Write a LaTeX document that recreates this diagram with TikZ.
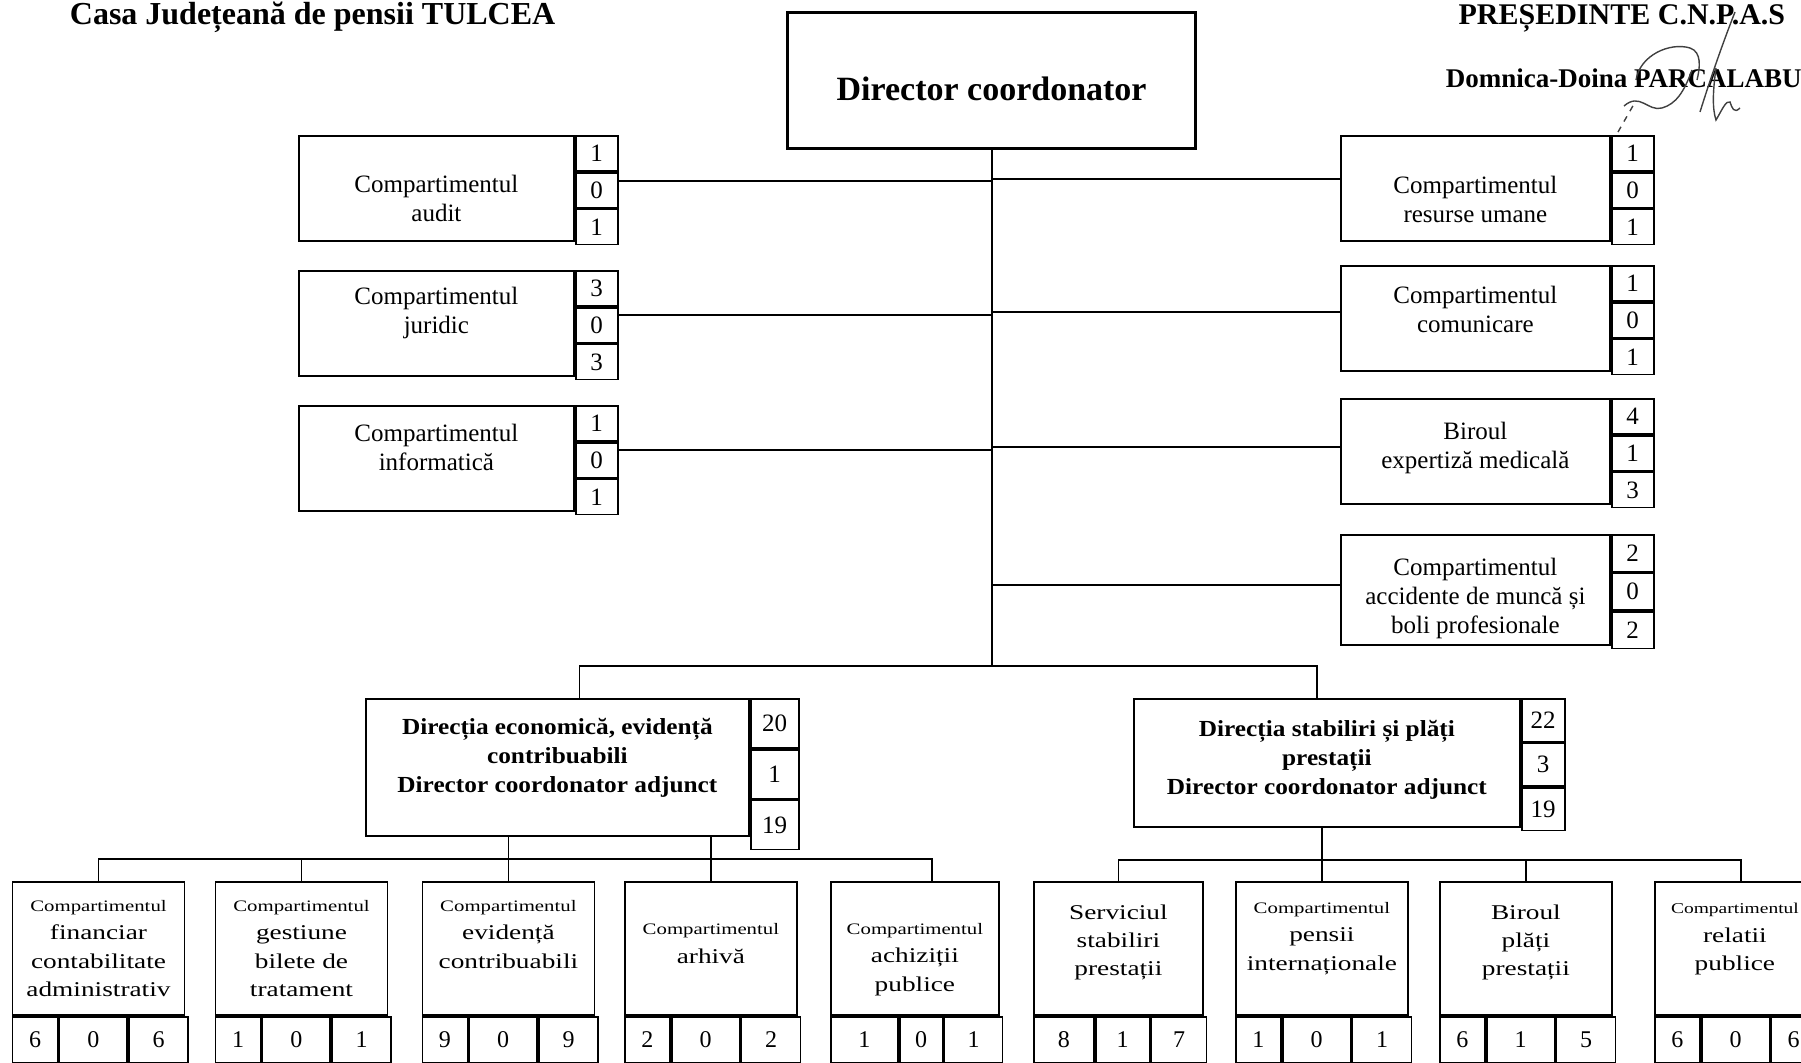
\documentclass[tikz,border=0pt]{standalone}
\usepackage{fontspec}
\setmainfont{Liberation Serif}
\newfontfamily\widerm[FakeStretch=1.3]{Liberation Serif}
\newfontfamily\widerb[FakeStretch=1.1]{Liberation Serif}
\newcommand{\cpt}{{\fontsize{8}{14.2}\selectfont Compartimentul}}
\usetikzlibrary{positioning}

\begin{document}
\begin{tikzpicture}[x=0.5pt, y=-0.5pt, line width=0.9pt,
  box/.style={draw, rectangle, inner sep=0pt, anchor=north west},
  sidebox/.style={box, minimum width=137.5pt, minimum height=52.5pt},
  sidetext/.style={align=center, inner sep=0pt, font=\fontsize{12.5}{14.5}\selectfont},
  numcell/.style={box, minimum width=21pt, minimum height=17.5pt, font=\fontsize{12.5}{13.5}\selectfont},
  dirtext/.style={align=center, inner sep=0pt, font=\widerb\bfseries\fontsize{11.5}{14.5}\selectfont},
  lowbox/.style={box, minimum width=86pt, minimum height=66.5pt},
  lowtext/.style={align=center, inner sep=0pt, font=\widerm\fontsize{10.5}{14.2}\selectfont},
  lownum/.style={box, minimum height=23pt, font=\fontsize{12}{13}\selectfont},
  headtext/.style={inner sep=0pt, font=\bfseries\fontsize{16}{18}\selectfont},
  sig/.style={line width=0.7pt, black!75}]

  \useasboundingbox (0,0) rectangle (1801,1063);
  \clip (0,0) rectangle (1801,1063);

  % header
  \node[headtext, anchor=base west] (casa) at (69,25) {Casa Județeană de pensii TULCEA};
  \node[headtext, anchor=base east, font=\bfseries\fontsize{15}{17}\selectfont] (pres) at (1786,25) {PREȘEDINTE C.N.P.A.S};
  \node[headtext, anchor=base west, font=\bfseries\fontsize{13.5}{15}\selectfont] (semn) at (1445,88) {Domnica-Doina PARCALABU};
  % signature
  \draw[sig] (1735,12) .. controls (1722,45) and (1710,80) .. (1700,112);
  \draw[sig] (1636,80) .. controls (1640,55) and (1670,42) .. (1690,48) .. controls (1702,52) and (1700,68) .. (1697,80);
  \draw[sig] (1624,106) .. controls (1640,92) and (1648,112) .. (1662,108) .. controls (1676,104) and (1684,92) .. (1692,70);
  \draw[sig, dashed] (1618,132) -- (1634,104);
  \draw[sig] (1716,68) .. controls (1713,90) and (1712,108) .. (1716,120) .. controls (1722,110) and (1726,100) .. (1730,102) .. controls (1732,108) and (1734,114) .. (1740,108);

  \node[box, line width=1.6pt, minimum width=204pt, minimum height=68pt] (dir) at (786,11) {};
  \node[inner sep=0pt, yshift=-4pt, font=\bfseries\fontsize{17}{20}\selectfont] (dirtxt) at (dir) {Director coordonator};

  % left side
  \node[sidebox] (audit) at (298,135) {};
  \node[sidetext, yshift=-5pt] (audittxt) at (audit) {Compartimentul\\audit};
  \node[numcell] (audit1) at (audit.north east) {1};
  \node[numcell, below=0pt of audit1] (audit2) {0};
  \node[numcell, below=0pt of audit2] (audit3) {1};

  \node[sidebox] (jur) at (298,270) {};
  \node[sidetext, yshift=5pt] (jurtxt) at (jur) {Compartimentul\\juridic};
  \node[numcell] (jur1) at (jur.north east) {3};
  \node[numcell, below=0pt of jur1] (jur2) {0};
  \node[numcell, below=0pt of jur2] (jur3) {3};

  \node[sidebox] (info) at (298,405) {};
  \node[sidetext, yshift=5.5pt] (infotxt) at (info) {Compartimentul\\informatică};
  \node[numcell] (info1) at (info.north east) {1};
  \node[numcell, below=0pt of info1] (info2) {0};
  \node[numcell, below=0pt of info2] (info3) {1};

  % right side
  \node[sidebox, minimum width=134.5pt] (rum) at (1340,135) {};
  \node[sidetext, yshift=-5.5pt] (rumtxt) at (rum) {Compartimentul\\resurse umane};
  \node[numcell] (rum1) at (rum.north east) {1};
  \node[numcell, below=0pt of rum1] (rum2) {0};
  \node[numcell, below=0pt of rum2] (rum3) {1};

  \node[sidebox, minimum width=134.5pt] (com) at (1340,265) {};
  \node[sidetext, yshift=4.5pt] (comtxt) at (com) {Compartimentul\\comunicare};
  \node[numcell] (com1) at (com.north east) {1};
  \node[numcell, below=0pt of com1] (com2) {0};
  \node[numcell, below=0pt of com2] (com3) {1};

  \node[sidebox, minimum width=134.5pt] (med) at (1340,398) {};
  \node[sidetext, yshift=1.5pt] (medtxt) at (med) {Biroul\\expertiză medicală};
  \node[numcell] (med1) at (med.north east) {4};
  \node[numcell, below=0pt of med1] (med2) {1};
  \node[numcell, below=0pt of med2] (med3) {3};

  \node[sidebox, minimum width=134.5pt, minimum height=55pt] (acc) at (1340,534) {};
  \node[sidetext, yshift=-4.5pt] (acctxt) at (acc) {Compartimentul\\accidente de muncă și\\boli profesionale};
  \node[numcell, minimum height=18.33pt] (acc1) at (acc.north east) {2};
  \node[numcell, minimum height=18.33pt, below=0pt of acc1] (acc2) {0};
  \node[numcell, minimum height=18.33pt, below=0pt of acc2] (acc3) {2};

  \coordinate (lvl) at (0,666);
  \draw (dir.south) -- (dir.south |- lvl);
  \draw ([yshift=4.5pt]audit2.east) -- ([yshift=4.5pt]audit2.east -| dir.south);
  \draw ([yshift=5pt]jur2.east) -- ([yshift=5pt]jur2.east -| dir.south);
  \draw ([yshift=5pt]info2.east) -- ([yshift=5pt]info2.east -| dir.south);
  \draw ([yshift=4.5pt]rum.west -| dir.south) -- ([yshift=4.5pt]rum.west);
  \draw ([yshift=3pt]com.west -| dir.south) -- ([yshift=3pt]com.west);
  \draw ([yshift=2pt]med.west -| dir.south) -- ([yshift=2pt]med.west);
  \draw ([yshift=2.5pt]acc.west -| dir.south) -- ([yshift=2.5pt]acc.west);

  % directions
  \node[box, minimum width=191.5pt, minimum height=68.5pt] (eco) at (365,698) {};
  \node[dirtext, yshift=5pt] (ecotxt) at (eco) {Direcția economică, evidență\\contribuabili\\Director coordonator adjunct};
  \node[numcell, minimum width=24pt, minimum height=24.5pt] (eco1) at (eco.north east) {20};
  \node[numcell, minimum width=24pt, minimum height=24.5pt, below=0pt of eco1] (eco2) {1};
  \node[numcell, minimum width=24pt, minimum height=24.5pt, below=0pt of eco2] (eco3) {19};

  \node[box, minimum width=193pt, minimum height=64pt] (stab) at (1133,698) {};
  \node[dirtext, yshift=1.5pt] (stabtxt) at (stab) {Direcția stabiliri și plăți\\prestații\\Director coordonator adjunct};
  \node[numcell, minimum width=21.5pt, minimum height=21.33pt] (stab1) at (stab.north east) {22};
  \node[numcell, minimum width=21.5pt, minimum height=21.33pt, below=0pt of stab1] (stab2) {3};
  \node[numcell, minimum width=21.5pt, minimum height=21.33pt, below=0pt of stab2] (stab3) {19};

  \coordinate (ecotop) at ([xshift=11pt]eco.north);
  \coordinate (stabtop) at ([xshift=-5pt]stab.north);
  \draw (ecotop) |- (dir.south |- lvl) -| (stabtop);

  % bottom row
  \node[lowbox] (c1) at (11.6,881) {};
  \node[lowtext] (c1txt) at (c1) {\cpt\\financiar\\contabilitate\\administrativ};
  \node[lownum, minimum width=22.5pt] (c1a) at (c1.south west) {6};
  \node[lownum, minimum width=34pt, right=0pt of c1a] (c1b) {0};
  \node[lownum, minimum width=29.5pt, right=0pt of c1b] (c1c) {6};

  \node[lowbox] (c2) at (214.6,881) {};
  \node[lowtext] (c2txt) at (c2) {\cpt\\gestiune\\bilete de\\tratament};
  \node[lownum, minimum width=22.5pt] (c2a) at (c2.south west) {1};
  \node[lownum, minimum width=34pt, right=0pt of c2a] (c2b) {0};
  \node[lownum, minimum width=29.5pt, right=0pt of c2b] (c2c) {1};

  \node[lowbox] (c3) at (421.5,881) {};
  \node[lowtext, yshift=7pt] (c3txt) at (c3) {\cpt\\evidență\\contribuabili};
  \node[lownum, minimum width=22.5pt] (c3a) at (c3.south west) {9};
  \node[lownum, minimum width=34pt, right=0pt of c3a] (c3b) {0};
  \node[lownum, minimum width=29.5pt, right=0pt of c3b] (c3c) {9};

  \node[lowbox] (c4) at (624,881) {};
  \node[lowtext, yshift=2.5pt] (c4txt) at (c4) {\cpt\\arhivă};
  \node[lownum, minimum width=22.5pt] (c4a) at (c4.south west) {2};
  \node[lownum, minimum width=34pt, right=0pt of c4a] (c4b) {0};
  \node[lownum, minimum width=29.5pt, right=0pt of c4b] (c4c) {2};

  \node[lowbox, minimum width=84pt] (c5) at (830,881) {};
  \node[lowtext, yshift=-5.5pt] (c5txt) at (c5) {\cpt\\achiziții\\publice};
  \node[lownum, minimum width=33.5pt] (c5a) at (c5.south west) {1};
  \node[lownum, minimum width=21.5pt, right=0pt of c5a] (c5b) {0};
  \node[lownum, minimum width=29pt, right=0pt of c5b] (c5c) {1};

  \node[lowbox, minimum width=84.5pt] (c6) at (1033,881) {};
  \node[lowtext, yshift=3pt] (c6txt) at (c6) {Serviciul\\stabiliri\\prestații};
  \node[lownum, minimum width=30pt] (c6a) at (c6.south west) {8};
  \node[lownum, minimum width=27pt, right=0pt of c6a] (c6b) {1};
  \node[lownum, minimum width=27.5pt, right=0pt of c6b] (c6c) {7};

  \node[lowbox] (c7) at (1235,881) {};
  \node[lowtext, yshift=5pt] (c7txt) at (c7) {\cpt\\pensii\\internaționale};
  \node[lownum, minimum width=22.5pt] (c7a) at (c7.south west) {1};
  \node[lownum, minimum width=34pt, right=0pt of c7a] (c7b) {0};
  \node[lownum, minimum width=29.5pt, right=0pt of c7b] (c7c) {1};

  \node[lowbox] (c8) at (1439,881) {};
  \node[lowtext, yshift=3pt] (c8txt) at (c8) {Biroul\\plăți\\prestații};
  \node[lownum, minimum width=22.5pt] (c8a) at (c8.south west) {6};
  \node[lownum, minimum width=34pt, right=0pt of c8a] (c8b) {1};
  \node[lownum, minimum width=29.5pt, right=0pt of c8b] (c8c) {5};

  \node[lowbox] (c9) at (1654,881) {};
  \node[lowtext, yshift=4.5pt, xshift=-3pt] (c9txt) at (c9) {{\fontsize{7.5}{14.2}\selectfont Compartimentul}\\relatii\\publice};
  \node[lownum, minimum width=22.5pt] (c9a) at (c9.south west) {6};
  \node[lownum, minimum width=34pt, right=0pt of c9a] (c9b) {0};
  \node[lownum, minimum width=22pt, right=0pt of c9b] (c9c) {6};

  \coordinate (lvlA) at (0,859);
  \coordinate (c5top) at ([xshift=8.5pt]c5.north);
  \draw (c1.north) |- (c2.north |- lvlA) -| (c5top);
  \draw (c2.north) -- (c2.north |- lvlA);
  \draw (eco.south -| c3.north) -- (c3.north);
  \draw (eco.south -| c4.north) -- (c4.north);

  \coordinate (lvlB) at (0,860);
  \draw (c6.north) |- (c8.north |- lvlB) -| (c9.north);
  \draw (c8.north) -- (c8.north |- lvlB);
  \draw (stab.south -| c7.north) -- (c7.north);

\end{tikzpicture}
\end{document}
